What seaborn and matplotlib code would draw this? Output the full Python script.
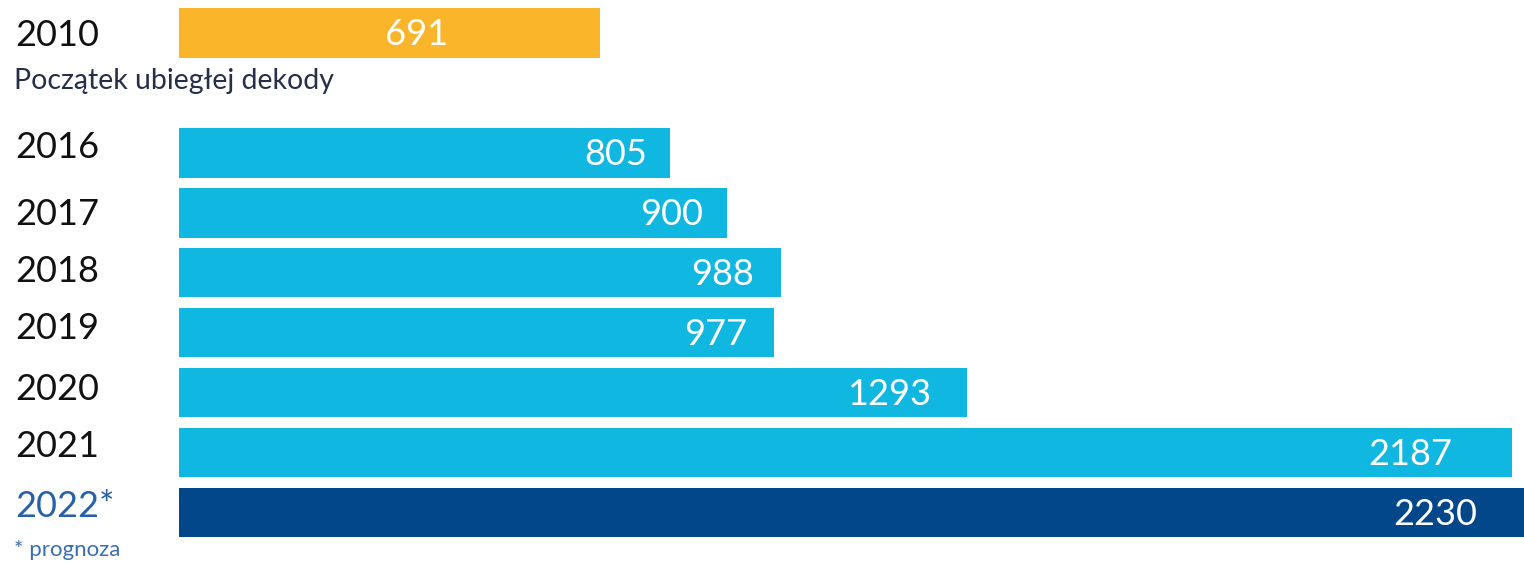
import matplotlib
matplotlib.use("Agg")
import matplotlib.pyplot as plt
import matplotlib.transforms as mtransforms
import seaborn as sns
import pandas as pd

# Data
years = ["2010", "2016", "2017", "2018", "2019", "2020", "2021", "2022*"]
values = [691, 805, 900, 988, 977, 1293, 2187, 2230]
bar_colors = ["#FBB52A", "#10B7E1", "#10B7E1", "#10B7E1", "#10B7E1",
              "#10B7E1", "#10B7E1", "#02478A"]
note_top = "Początek ubiegłej dekody"
note_bottom = "* prognoza"

sns.set_theme(style="white")
plt.rcParams['font.family'] = ['Lato', 'DejaVu Sans']

df = pd.DataFrame({"year": years, "value": values})
# empty slot between 2010 and 2016 leaves room for the note
order = [years[0], " "] + years[1:]

fig = plt.figure(figsize=(15.24, 5.65), dpi=100)
ax = fig.add_axes([179 / 1524, 0, 1 - 179 / 1524, 1])

sns.barplot(data=df, x="value", y="year", hue="year", order=order,
            palette=dict(zip(years, bar_colors)), orient="h",
            width=0.833, legend=False, saturation=1, linewidth=0, ax=ax)

ax.set_xlim(0, 2207)
ax.set_ylim(8.875, -0.542)
ax.set_xlabel("")
ax.set_ylabel("")
ax.set_xticks([])
ax.set_yticks([])
sns.despine(ax=ax, left=True, bottom=True)

trans = mtransforms.blended_transform_factory(fig.transFigure, ax.transData)

# year labels sit a little irregularly in the original (pixel shifts)
label_shift = [1, -7, 0, -3.5, -6.5, -5.5, -8.5, -8.5]

for i, (yr, v) in enumerate(zip(years, values)):
    pos = order.index(yr)
    ax.text(15 / 1524, pos + (label_shift[i] + 2) / 60, yr, transform=trans,
            ha="left", va="center", fontsize=26,
            color="#2760AA" if yr == "2022*" else "#111111")
    if i == 0:
        ax.text(v * 0.565, pos + 0.03, str(v), ha="center", va="center",
                color="white", fontsize=26)
    else:
        ax.text(v * 0.955, pos + 0.03, str(v), ha="right", va="center",
                color="white", fontsize=26)

ax.text(14 / 1524, 0.8, note_top, transform=trans, ha="left", va="center",
        fontsize=20.5, color="#262F4A")
ax.text(14 / 1524, 8.63, note_bottom, transform=trans, ha="left", va="center",
        fontsize=16, color="#3A6DB3")

fig.savefig("out.png", dpi=100, facecolor="white")
